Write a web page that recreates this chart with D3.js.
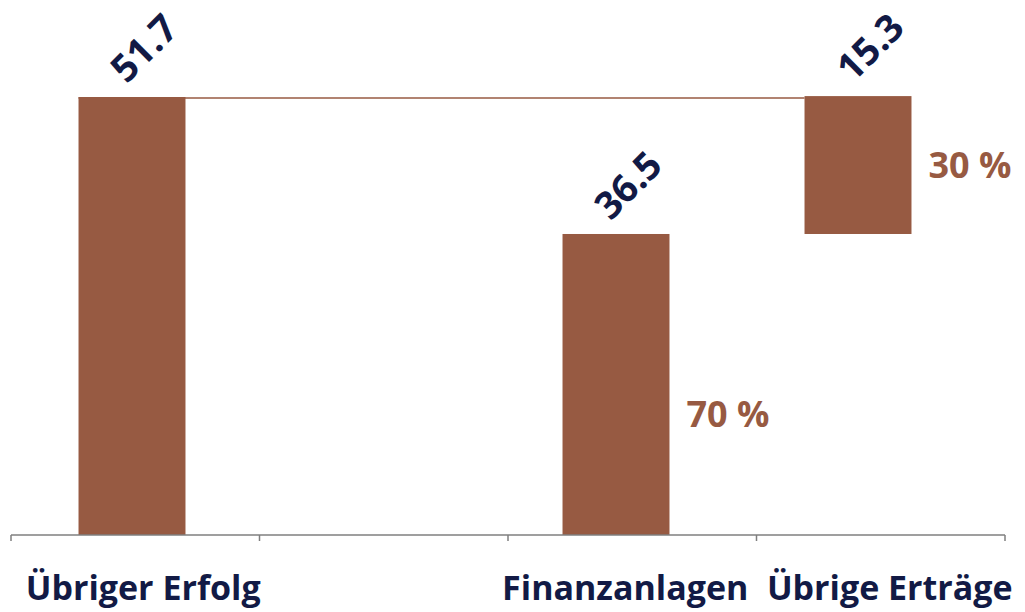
<!DOCTYPE html>
<html>
<head>
<meta charset="utf-8">
<script src="https://cdn.jsdelivr.net/npm/d3@7"></script>
<style>
  body { margin: 0; background: #fff; }
  svg text { font-family: "Open Sans", sans-serif; font-weight: 700; }
</style>
</head>
<body>
<svg id="chart" width="1025" height="612"></svg>
<script>
// waterfall: Übriger Erfolg split into Finanzanlagen + Übrige Erträge
const categories = ["Übriger Erfolg", "", "Finanzanlagen", "Übrige Erträge"];
const barValues  = [51.7, null, 36.5, 15.3];
const barBase    = [0, null, 0, 36.5];
const shares     = [null, null, "70 %", "30 %"];

const navy = "#121a45", brown = "#975a42";

const svg = d3.select("#chart");
const baseY = 535;

const y = d3.scaleLinear().domain([3.1, 51.7]).range([baseY, 97]);

// axis bands
const xAxis = d3.scaleBand().domain(d3.range(categories.length)).range([11, 1005]);
// bars sit on a slightly tighter grid
const xBar = d3.scaleBand().domain(d3.range(categories.length))
  .range([11, 979]).paddingInner(0.558).paddingOuter(0.279);

const bars = categories.map((c, i) => ({ i, v: barValues[i], base: barBase[i], share: shares[i] }))
  .filter(d => d.v != null);

// connector from the total to the top of the last bar
svg.append("line")
  .attr("x1", xBar(0)).attr("x2", xBar(3))
  .attr("y1", y(barValues[0]) + 1).attr("y2", y(barValues[0]) + 1)
  .attr("stroke", brown).attr("stroke-width", 1.5);

svg.selectAll("rect.bar").data(bars).enter().append("rect")
  .attr("class", "bar")
  .attr("x", d => xBar(d.i))
  .attr("width", xBar.bandwidth())
  .attr("y", d => y(d.base + d.v))
  .attr("height", d => (d.base === 0 ? baseY : y(d.base)) - y(d.base + d.v))
  .attr("fill", brown);

// x axis
const ax = svg.append("g").attr("stroke", "#7f7f7f").attr("stroke-width", 1.5);
ax.append("line").attr("x1", 11).attr("x2", 1005).attr("y1", baseY).attr("y2", baseY);
ax.selectAll("line.tick").data(d3.range(categories.length + 1)).enter().append("line")
  .attr("x1", i => i < categories.length ? xAxis(i) : xAxis.range()[1])
  .attr("x2", i => i < categories.length ? xAxis(i) : xAxis.range()[1])
  .attr("y1", baseY).attr("y2", baseY + 6);

svg.selectAll("text.cat").data(categories).enter().append("text")
  .attr("class", "cat")
  .attr("x", (d, i) => xAxis(i) + xAxis.bandwidth() / 2 + [8, 0, -7, 9][i])
  .attr("y", 600)
  .attr("text-anchor", "middle")
  .attr("fill", navy)
  .style("font-size", "34px")
  .text(d => d);

// rotated value labels
svg.selectAll("text.val").data(bars).enter().append("text")
  .attr("class", "val")
  .attr("transform", d => `translate(${xBar(d.i) + xBar.bandwidth() / 2 + 11},${y(d.base + d.v) - 50}) rotate(-45)`)
  .attr("text-anchor", "middle")
  .attr("dominant-baseline", "central")
  .attr("fill", navy)
  .style("font-size", "38px")
  .text(d => d.v.toFixed(1));

// share labels to the right
svg.selectAll("text.share").data(bars.filter(d => d.share)).enter().append("text")
  .attr("class", "share")
  .attr("x", d => xBar(d.i) + xBar.bandwidth() + 17)
  .attr("y", d => {
    const mid = (y(d.base + d.v) + (d.base === 0 ? baseY : y(d.base))) / 2;
    return d.base === 0 ? mid + 43 : mid + 13;
  })
  .attr("fill", brown)
  .style("font-size", "36px")
  .text(d => d.share);
</script>
</body>
</html>
